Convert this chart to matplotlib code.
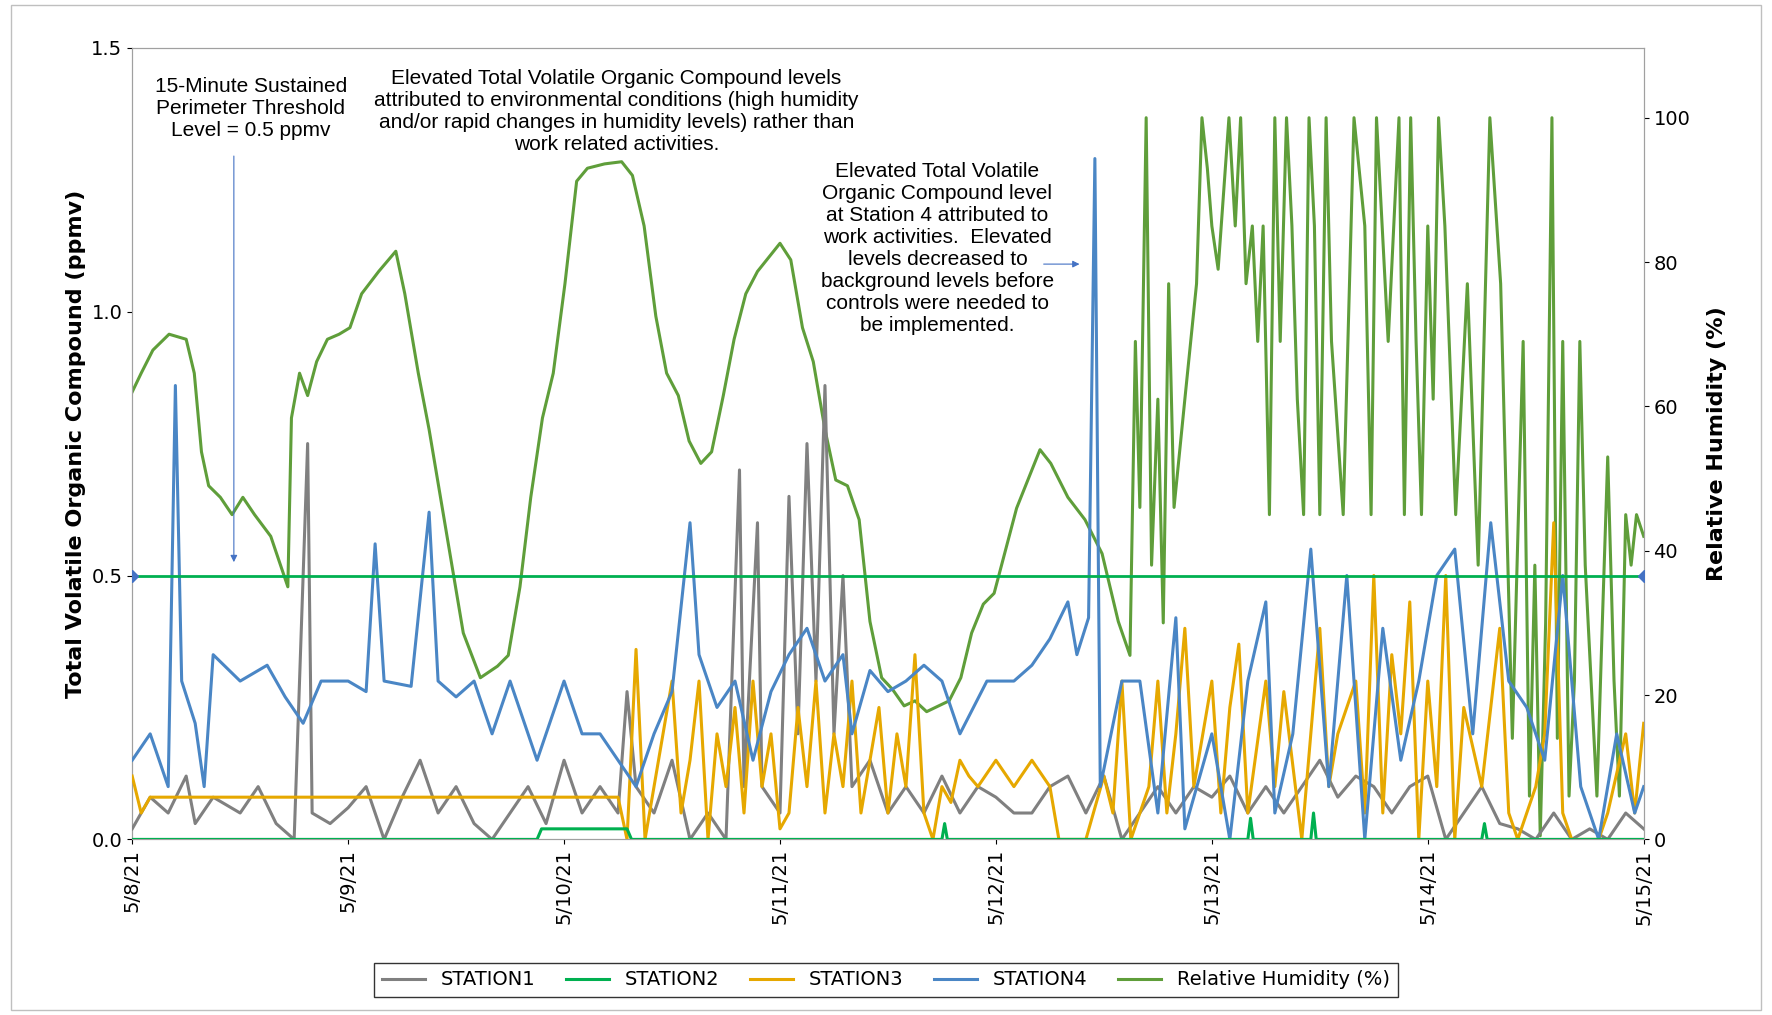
import numpy as np
import matplotlib.pyplot as plt
from matplotlib.patches import Rectangle

# time in hours from 5/8/21 00:00
st1_h = [0, 2, 4, 6, 7, 9, 12, 14, 16, 18, 19.5, 20, 22, 24, 26, 28, 30, 32, 34, 36, 38, 40, 42, 44, 46, 48, 50, 52, 54, 55, 56, 58, 60, 62, 64, 66, 67.5, 68, 69.5, 70, 72, 73, 74, 75, 76, 77, 78, 79, 80, 82, 84, 86, 88, 90, 92, 94, 96, 98, 100, 102, 104, 106, 108, 110, 112, 114, 116, 118, 120, 122, 124, 126, 128, 130, 132, 134, 136, 138, 140, 142, 144, 146, 148, 150, 152, 154, 156, 158, 160, 162, 164, 166, 168]
st1_v = [.02, .08, .05, .12, .03, .08, .05, .1, .03, 0, .75, .05, .03, .06, .1, 0, .08, .15, .05, .1, .03, 0, .05, .1, .03, .15, .05, .1, .05, .28, .1, .05, .15, 0, .05, 0, .7, .1, .6, .1, .05, .65, .2, .75, .3, .86, .2, .5, .1, .15, .05, .1, .05, .12, .05, .1, .08, .05, .05, .1, .12, .05, .12, 0, .05, .1, .05, .1, .08, .12, .05, .1, .05, .1, .15, .08, .12, .1, .05, .1, .12, 0, .05, .1, .03, .02, 0, .05, 0, .02, 0, .05, .02]

st2_h = [0, 45, 45.5, 48, 48.5, 55, 55.5, 90, 90.3, 90.6, 124, 124.3, 124.6, 131, 131.3, 131.6, 150, 150.3, 150.6, 168]
st2_v = [0, 0, .02, .02, .02, .02, 0, 0, .03, 0, 0, .04, 0, 0, .05, 0, 0, .03, 0, 0]

st3_h = [0, 1, 2, 54, 55, 56, 57, 58, 60, 61, 62, 63, 64, 65, 66, 67, 68, 69, 70, 71, 72, 73, 74, 75, 76, 77, 78, 79, 80, 81, 82, 83, 84, 85, 86, 87, 88, 89, 90, 91, 92, 93, 94, 96, 98, 100, 102, 103, 106, 108, 109, 110, 111, 113, 114, 115, 116, 117, 118, 120, 121, 122, 123, 124, 126, 127, 128, 130, 132, 133, 134, 136, 137, 138, 139, 140, 141, 142, 143, 144, 145, 146, 147, 148, 150, 152, 153, 154, 156, 157, 158, 159, 160, 163, 164, 166, 167, 168]
st3_v = [.12, .05, .08, .08, 0, .36, 0, .1, .3, .05, .15, .3, 0, .2, .1, .25, .05, .3, .1, .2, .02, .05, .25, .1, .3, .05, .2, .1, .3, .05, .15, .25, .05, .2, .1, .35, .05, 0, .1, .07, .15, .12, .1, .15, .1, .15, .1, 0, 0, .12, .05, .3, 0, .1, .3, .05, .2, .4, .1, .3, .05, .25, .37, .05, .3, .1, .28, 0, .4, .1, .2, .3, .05, .5, .05, .35, .2, .45, 0, .3, .1, .5, 0, .25, .1, .4, .05, 0, .1, .2, .6, .05, 0, 0, .05, .2, .05, .22]

st4_h = [0, 2, 4, 4.8, 5.5, 7, 8, 9, 12, 15, 17, 19, 21, 24, 26, 27, 28, 31, 33, 34, 36, 38, 40, 42, 45, 48, 50, 52, 54, 56, 58, 60, 62, 63, 65, 67, 69, 71, 73, 75, 77, 79, 80, 82, 84, 86, 88, 90, 92, 95, 98, 100, 102, 104, 105, 106.3, 107, 107.6, 110, 112, 114, 116, 117, 120, 122, 124, 126, 127, 129, 131, 133, 135, 137, 139, 141, 143, 145, 147, 149, 151, 153, 155, 157, 159, 161, 163, 165, 167, 168]
st4_v = [.15, .2, .1, .86, .3, .22, .1, .35, .3, .33, .27, .22, .3, .3, .28, .56, .3, .29, .62, .3, .27, .3, .2, .3, .15, .3, .2, .2, .15, .1, .2, .28, .6, .35, .25, .3, .15, .28, .35, .4, .3, .35, .2, .32, .28, .3, .33, .3, .2, .3, .3, .33, .38, .45, .35, .42, 1.29, .1, .3, .3, .05, .42, .02, .2, 0, .3, .45, .05, .2, .55, .1, .5, 0, .4, .15, .3, .5, .55, .2, .6, .3, .25, .15, .5, .1, 0, .2, .05, .1]

rh_h = [0, 1, 2.3, 4.1, 6, 6.9, 7.7, 8.5, 9.8, 11.1, 12.3, 13.6, 15.4, 16.7, 17.3, 17.7, 18.6, 19.5, 20.5, 21.7, 23, 24.2, 25.5, 27.4, 29.3, 30.3, 31.8, 33, 34.9, 36.8, 38.7, 40.6, 41.8, 43.1, 44.3, 45.6, 46.8, 48.1, 49.4, 50.6, 52.5, 54.4, 55.6, 56.9, 58.2, 59.4, 60.7, 61.9, 63.2, 64.4, 65.7, 66.9, 68.2, 69.5, 72, 73.2, 74.5, 75.7, 77, 78.2, 79.5, 80.8, 82, 83.3, 84.5, 85.8, 87, 88.3, 90.8, 92.1, 93.3, 94.6, 95.8, 98.3, 100.9, 102.1, 104, 105.9, 107.8, 109.6, 110.9,
        111.5, 112, 112.7, 113.3, 114, 114.6, 115.2, 115.8, 117, 118.3, 118.9, 119.5, 120, 120.7, 121.9, 122.6, 123.2, 123.8, 124.5, 125.1, 125.7, 126.4, 127, 127.6, 128.3, 128.9, 129.5, 130.2, 130.8, 131.4, 132, 132.7, 133.3, 134.6, 135.8, 137, 137.7, 138.3, 139.6, 140.8, 141.4, 142.1, 142.7, 143.3, 144, 144.6, 145.2, 145.9, 147.1, 148.4, 149.6, 150.9, 152.1, 153.4, 154.6, 155.3, 155.9, 156.5, 157.1, 157.8, 158.4, 159, 159.7, 160.3, 160.9, 161.5, 162.8, 163.4, 164, 164.7, 165.3, 166, 166.6, 167.2, 168]
rh_v = [62, 64.6, 67.8, 70, 69.3, 64.6, 53.7, 49, 47.4, 45, 47.4, 45, 42, 37.2, 35, 58.4, 64.6, 61.5, 66.2, 69.3, 70, 70.9, 75.6, 78.7, 81.5, 75.6, 64.6, 56.8, 42.7, 28.6, 22.4, 24, 25.5, 35, 47.4, 58.4, 64.6, 77, 91.2, 93, 93.6, 93.9, 92, 85, 72.5, 64.6, 61.5, 55.2, 52.1, 53.7, 61.5, 69.3, 75.6, 78.7, 82.6, 80.3, 70.9, 66.2, 56.8, 49.8, 49, 44.3, 30.2, 22.4, 20.8, 18.5, 19.2, 17.7, 19.2, 22.4, 28.6, 32.6, 34.1, 45.9, 54, 52.1, 47.4, 44.3, 39.6, 30.2, 25.5,
        69, 46, 100, 38, 61, 30, 77, 46, 61, 77, 100, 93, 85, 79, 100, 85, 100, 77, 85, 69, 85, 45, 100, 69, 100, 85, 61, 45, 100, 85, 45, 100, 69, 45, 100, 85, 45, 100, 69, 100, 45, 100, 69, 45, 85, 61, 100, 85, 45, 77, 38, 100, 77, 14, 69, 6, 38, 0.5, 30, 100, 14, 69, 6, 22, 69, 38, 6, 30, 53, 22, 6, 45, 38, 45, 42]

threshold = 0.5
day_labels = ["5/8/21", "5/9/21", "5/10/21", "5/11/21", "5/12/21", "5/13/21", "5/14/21", "5/15/21"]

fig = plt.figure(figsize=(17.72, 10.15), dpi=100)
fig.patches.append(Rectangle((0.006, 0.005), 0.988, 0.99, transform=fig.transFigure,
                             fill=False, edgecolor="#bfbfbf", linewidth=1))
ax = fig.add_axes([0.0746, 0.173, 0.853, 0.78])
ax2 = ax.twinx()

c1, c2, c3, c4, crh = "#808080", "#00b050", "#e6a800", "#4a86c5", "#5f9e3a"
lw = 2.2
ax.plot(st1_h, st1_v, color=c1, lw=lw, label="STATION1", zorder=3)
ax.plot(st2_h, st2_v, color=c2, lw=lw, label="STATION2", zorder=4)
ax.plot(st3_h, st3_v, color=c3, lw=lw, label="STATION3", zorder=3)
ax.plot(st4_h, st4_v, color=c4, lw=lw, label="STATION4", zorder=3)
ax.plot([0, 168], [threshold, threshold], color=c2, lw=2, marker="D",
        markersize=6, markerfacecolor="#4472c4", markeredgecolor="#4472c4", zorder=5)
ax2.plot(rh_h, rh_v, color=crh, lw=lw, label="Relative Humidity (%)")

ax.set_xlim(0, 168)
ax.set_ylim(0, 1.5)
ax.set_yticks([0, 0.5, 1.0, 1.5])
ax.set_yticklabels(["0.0", "0.5", "1.0", "1.5"], fontsize=14)
ax.set_xticks(np.arange(0, 169, 24))
ax.set_xticklabels(day_labels, rotation=90, fontsize=14)
ax2.set_ylim(0, 109.7)
ax2.set_yticks(range(0, 101, 20))
ax2.tick_params(labelsize=14)
ax.set_ylabel("Total Volatile Organic Compound (ppmv)", fontsize=16, fontweight="bold")
ax2.set_ylabel("Relative Humidity (%)", fontsize=16, fontweight="bold", labelpad=12)
for a in (ax, ax2):
    for s in a.spines.values():
        s.set_color("#a0a0a0")
ax.set_zorder(ax2.get_zorder() + 1)
ax.patch.set_visible(False)

tf = dict(fontsize=15, ha="center", va="center", family="Liberation Sans")
ax.text(13.2, 1.385, "15-Minute Sustained\nPerimeter Threshold\nLevel = 0.5 ppmv", **tf)
ax.text(53.8, 1.38, "Elevated Total Volatile Organic Compound levels\nattributed to environmental conditions (high humidity\n"
        "and/or rapid changes in humidity levels) rather than\nwork related activities.", **tf)
ax.text(89.5, 1.12, "Elevated Total Volatile\nOrganic Compound level\nat Station 4 attributed to\nwork activities.  Elevated\n"
        "levels decreased to\nbackground levels before\ncontrols were needed to\nbe implemented.", **tf)
ax.annotate("", xy=(11.3, 0.52), xytext=(11.3, 1.30),
            arrowprops=dict(arrowstyle="-|>", color="#4472c4", lw=0.8))
ax.annotate("", xy=(105.6, 1.09), xytext=(101, 1.09),
            arrowprops=dict(arrowstyle="-|>", color="#4472c4", lw=0.8))

h1, l1 = ax.get_legend_handles_labels()
h2, l2 = ax2.get_legend_handles_labels()
fig.legend(h1 + h2, l1 + l2, loc="lower center", bbox_to_anchor=(0.5, 0.008), ncol=5,
           fontsize=14, frameon=True, fancybox=False, edgecolor="black",
           handlelength=2.2, columnspacing=1.6)

fig.savefig("out.png", dpi=100)
